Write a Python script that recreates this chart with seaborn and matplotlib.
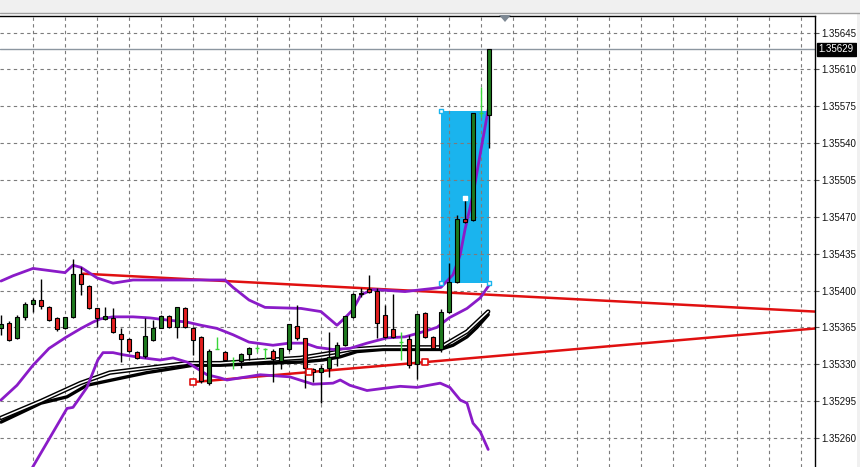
import numpy as np
import pandas as pd
import matplotlib
matplotlib.use("Agg")
import matplotlib.pyplot as plt
import seaborn as sns
from matplotlib.patches import Rectangle, Polygon

# candle data (price), one per bar
opens = [1.35364, 1.35369, 1.35355, 1.35375, 1.35387, 1.35391, 1.35384, 1.35374, 1.35364, 1.35375,
         1.35416, 1.35404, 1.35383, 1.35373, 1.35374, 1.35359, 1.35354, 1.35342, 1.35338, 1.35353,
         1.35364, 1.35376, 1.35365, 1.35383, 1.35364, 1.35356, 1.35312, 1.35344, 1.35342, 1.35333,
         1.35333, 1.35340, 1.35345, 1.35344, 1.35343, 1.35333, 1.35344, 1.35366, 1.35355, 1.35325,
         1.35323, 1.35326, 1.35337, 1.35348, 1.35375, 1.35398, 1.35401, 1.35400, 1.35377, 1.35363,
         1.35351, 1.35354, 1.35330, 1.35379, 1.35356, 1.35344, 1.35380, 1.35408, 1.35468, 1.35467,
         1.35569, 1.35567]
highs = [1.35377, 1.35371, 1.35377, 1.35389, 1.35393, 1.35411, 1.35385, 1.35375, 1.35375, 1.35430,
         1.35422, 1.35405, 1.35383, 1.35384, 1.35383, 1.35364, 1.35355, 1.35343, 1.35374, 1.35372,
         1.35377, 1.35377, 1.35384, 1.35384, 1.35365, 1.35357, 1.35344, 1.35356, 1.35343, 1.35337,
         1.35341, 1.35346, 1.35347, 1.35345, 1.35344, 1.35345, 1.35368, 1.35386, 1.35355, 1.35326,
         1.35329, 1.35361, 1.35351, 1.35376, 1.35398, 1.35402, 1.35415, 1.35402, 1.35386, 1.35397,
         1.35361, 1.35358, 1.35378, 1.35380, 1.35357, 1.35382, 1.35426, 1.35472, 1.35488, 1.35569,
         1.35593, 1.35629]
lows = [1.35358, 1.35352, 1.35354, 1.35372, 1.35380, 1.35382, 1.35371, 1.35362, 1.35363, 1.35374,
        1.35396, 1.35382, 1.35365, 1.35372, 1.35360, 1.35332, 1.35342, 1.35335, 1.35336, 1.35352,
        1.35364, 1.35364, 1.35355, 1.35364, 1.35339, 1.35312, 1.35310, 1.35344, 1.35333, 1.35325,
        1.35326, 1.35334, 1.35342, 1.35335, 1.35313, 1.35325, 1.35343, 1.35353, 1.35307, 1.35313,
        1.35293, 1.35318, 1.35328, 1.35347, 1.35374, 1.35394, 1.35398, 1.35355, 1.35355, 1.35355,
        1.35334, 1.35326, 1.35316, 1.35355, 1.35344, 1.35342, 1.35379, 1.35407, 1.35464, 1.35466,
        1.35565, 1.35535]
closes = [1.35368, 1.35353, 1.35375, 1.35387, 1.35391, 1.35385, 1.35372, 1.35363, 1.35375, 1.35416,
          1.35406, 1.35383, 1.35374, 1.35376, 1.35361, 1.35354, 1.35343, 1.35336, 1.35357, 1.35364,
          1.35376, 1.35365, 1.35384, 1.35365, 1.35353, 1.35314, 1.35343, 1.35344, 1.35334, 1.35333,
          1.35340, 1.35345, 1.35345, 1.35344, 1.35335, 1.35345, 1.35368, 1.35355, 1.35326, 1.35323,
          1.35326, 1.35337, 1.35348, 1.35376, 1.35397, 1.35397, 1.35399, 1.35369, 1.35356, 1.35356,
          1.35351, 1.35329, 1.35378, 1.35356, 1.35345, 1.35380, 1.35408, 1.35468, 1.35465, 1.35569,
          1.35569, 1.35629]

# bollinger bands (read at bar positions)
upper_x = [0, 1.5, 4, 5, 8, 9, 10, 12, 14, 16.5, 21, 25, 28, 29, 31, 33, 37.5, 40, 42, 43, 44, 45,
           46.5, 48.5, 50.5, 54, 55, 56.5, 57.4, 58, 59, 60, 61]
upper_y = [1.35409, 1.35414, 1.35421, 1.35420, 1.35417, 1.35424, 1.35422, 1.35412, 1.35407, 1.35410,
           1.35410, 1.35410, 1.35410, 1.35403, 1.35391, 1.35384, 1.35383, 1.35380, 1.35367, 1.35374,
           1.35382, 1.35396, 1.35401, 1.35400, 1.35399, 1.35402, 1.35403, 1.35415, 1.35434, 1.35458,
           1.35491, 1.35534, 1.35576]
middle_x = [0, 2, 4, 6, 8, 10, 11.5, 12.4, 14, 16.5, 18.6, 20.75, 23.25, 25, 27, 29, 31, 34, 36, 38,
            39.5, 41.5, 43.6, 45.75, 48.25, 50.5, 52.4, 54.5, 56, 58.25, 59.9, 61]
middle_y = [1.35296, 1.35310, 1.35329, 1.35345, 1.35355, 1.35364, 1.35370, 1.35373, 1.35375, 1.35375,
            1.35374, 1.35372, 1.35370, 1.35367, 1.35364, 1.35358, 1.35351, 1.35348, 1.35350, 1.35350,
            1.35346, 1.35344, 1.35345, 1.35350, 1.35355, 1.35356, 1.35360, 1.35365, 1.35374, 1.35383,
            1.35393, 1.35405]
lower_x = [3.4, 8.25, 9, 10.75, 12.1, 12.75, 14, 15.25, 17.75, 19.9, 21.5, 23.25, 24.5, 25.75, 27.4,
           28.25, 32.4, 36.1, 39, 41.5, 42.4, 43.6, 45.75, 47.75, 49.9, 52, 54.9, 56.1, 57.4, 58.25,
           59, 59.9, 60.9]
lower_y = [1.35225, 1.35288, 1.35289, 1.35308, 1.35334, 1.35341, 1.35341, 1.35339, 1.35336, 1.35334,
           1.35336, 1.35332, 1.35326, 1.35320, 1.35317, 1.35315, 1.35320, 1.35318, 1.35311, 1.35312,
           1.35315, 1.35310, 1.35305, 1.35307, 1.35309, 1.35308, 1.35312, 1.35308, 1.35296, 1.35293,
           1.35274, 1.35266, 1.35249]

# moving averages
ma_slow_x = [0, 5, 8.25, 10.75, 14.5, 18.25, 20.75, 24, 27.4, 33.25, 37.4, 40.25, 42.4, 44.5, 47.75,
             52.4, 54.9, 56.5, 58.25, 59.5, 60.9]
ma_slow_y = [1.35275, 1.35293, 1.35299, 1.35310, 1.35316, 1.35322, 1.35325, 1.35329, 1.35329, 1.35331,
             1.35332, 1.35334, 1.35337, 1.35342, 1.35344, 1.35344, 1.35344, 1.35348, 1.35356, 1.35365,
             1.35377]
ma_fast_x = [0, 5, 9.9, 13.6, 23.25, 27.4, 33.25, 37.4, 41.5, 43.6, 47.75, 52.4, 54.9, 58.25, 60.9]
ma_fast_y = [1.35279, 1.35295, 1.35312, 1.35322, 1.35331, 1.35331, 1.35334, 1.35336, 1.35341, 1.35344,
             1.35346, 1.35346, 1.35346, 1.35361, 1.35380]

# trend lines (anchor points) and box
trend_up_x = [10.25, 101.75]
trend_up_y = [1.35416, 1.35380]
trend_low_x = [24, 53]
trend_low_y = [1.35313, 1.35332]
box_x = [55, 61]
box_y = [1.35407, 1.35571]

last_price = 1.35629
tick_prices = [1.35260, 1.35295, 1.35330, 1.35365, 1.35400, 1.35435, 1.35470, 1.35505, 1.35540,
               1.35575, 1.35610, 1.35645]

W, H = 860, 467
sns.set_style("white")
fig = plt.figure(figsize=(W / 100, H / 100), dpi=100)
fig.patch.set_facecolor("white")

# top toolbar band
fig.add_artist(Rectangle((0, 1 - 12.5 / H), 1, 12.5 / H, transform=fig.transFigure,
                         facecolor="#f0f0f0", edgecolor="none"))
fig.add_artist(plt.Line2D([0, 1], [1 - 12.5 / H] * 2, transform=fig.transFigure, color="#a0a0a0", lw=1))
fig.add_artist(Rectangle((857 / W, 0), 3 / W, 1 - 12.5 / H, transform=fig.transFigure,
                         facecolor="#f0f0f0", edgecolor="none"))

ax = fig.add_axes([0, 0, 815 / W, 451 / H])
ax.set_xlim(-0.125, 101.75)
ax.set_ylim(1.3523235, 1.356608)
ax.set_axisbelow("line")

# grid
ax.set_xticks(np.arange(4, 101, 4))
ax.set_yticks(tick_prices)
ax.set_yticklabels([f"{p:.5f}" for p in tick_prices])
ax.grid(True, color="#7c7c7c", linestyle=(0, (3, 3)), lw=0.8)
ax.yaxis.tick_right()
ax.tick_params(axis="x", length=0, labelbottom=False)
ax.tick_params(axis="y", length=3, width=0.8, color="#555555", pad=1.5, labelsize=7,
               labelcolor="#111111")
for lab in ax.get_yticklabels():
    lab.set_family("Liberation Sans")
for s in ["left", "bottom"]:
    ax.spines[s].set_visible(False)
for s in ["top", "right"]:
    ax.spines[s].set_color("black")
    ax.spines[s].set_linewidth(1)

# blue box behind candles
ax.add_patch(Rectangle((box_x[0], box_y[0]), box_x[1] - box_x[0], box_y[1] - box_y[0],
                       facecolor="#1ab4ee", edgecolor="none", zorder=1))

# current price line
ax.axhline(last_price, color="#8c96a0", lw=1, zorder=1.6)

# trend lines
k_up = (trend_up_y[1] - trend_up_y[0]) / (trend_up_x[1] - trend_up_x[0])
ax.plot([trend_up_x[0], 102], [trend_up_y[0], trend_up_y[0] + k_up * (102 - trend_up_x[0])],
        color="#e01010", lw=1.8, zorder=2)
k_low = (trend_low_y[1] - trend_low_y[0]) / (trend_low_x[1] - trend_low_x[0])
ax.plot([trend_low_x[0], 102], [trend_low_y[0], trend_low_y[0] + k_low * (102 - trend_low_x[0])],
        color="#e01010", lw=1.8, zorder=2)
mid_x = (trend_low_x[0] + trend_low_x[1]) / 2
mid_y = (trend_low_y[0] + trend_low_y[1]) / 2
ax.scatter([trend_low_x[0], mid_x, trend_low_x[1]], [trend_low_y[0], mid_y, trend_low_y[1]],
           marker="s", s=14, facecolor="white", edgecolor="#e01010", lw=1.2, zorder=6)

# moving averages
sns.lineplot(x=ma_slow_x, y=ma_slow_y, ax=ax, color="black", lw=2.4, sort=False, estimator=None, zorder=2.2)
sns.lineplot(x=ma_fast_x, y=ma_fast_y, ax=ax, color="black", lw=3.2, sort=False, estimator=None, zorder=2.3)
sns.lineplot(x=ma_fast_x, y=ma_fast_y, ax=ax, color="white", lw=1.1, sort=False, estimator=None, zorder=2.4)

# bollinger bands
for bx, by in [(upper_x, upper_y), (middle_x, middle_y), (lower_x, lower_y)]:
    sns.lineplot(x=bx, y=by, ax=ax, color="#8a1bc8", lw=2, sort=False, estimator=None, zorder=2.5)

# candles
df = pd.DataFrame({"o": opens, "h": highs, "l": lows, "c": closes})
df["i"] = np.arange(len(df))
body_w = 0.62
doji = df[df["o"] == df["c"]]
bars = df[df["o"] != df["c"]]
ax.vlines(bars["i"], bars["l"], bars["h"], color="black", lw=1, zorder=3)
bar_col = np.where(bars["c"] > bars["o"], "#1e7a1e", "#e31e1e")
ax.bar(bars["i"], (bars["c"] - bars["o"]).abs(), bottom=bars[["o", "c"]].min(axis=1), width=body_w,
       color=bar_col, edgecolor="black", lw=0.8, zorder=4)
ax.vlines(doji["i"], doji["l"], doji["h"], color="#3ad63a", lw=1, zorder=3)
ax.hlines(doji["o"], doji["i"] - body_w / 2, doji["i"] + body_w / 2, color="#3ad63a", lw=1, zorder=3)

# box corner markers
ax.scatter([box_x[0], box_x[0], box_x[1]], [box_y[1], box_y[0], box_y[0]], marker="s", s=12,
           facecolor="white", edgecolor="#1ab4ee", lw=1, zorder=6)
ax.scatter([58], [1.35488], marker="s", s=6, facecolor="white", edgecolor="white", zorder=6)

# last price label
ax.annotate(f"{last_price:.5f}", xy=(1.0, last_price), xycoords=("axes fraction", "data"),
            xytext=(2.5, 0), textcoords="offset points", va="center", ha="left",
            fontsize=7, family="Liberation Sans", color="white",
            bbox=dict(boxstyle="square,pad=0.2", facecolor="black", edgecolor="black"), zorder=7)

# shift marker on top
fig.add_artist(Polygon([[499 / W, 1 - 15 / H], [511 / W, 1 - 15 / H], [505 / W, 1 - 22 / H]],
                       closed=True, transform=fig.transFigure, facecolor="#7d8893", edgecolor="none"))

fig.savefig("out.png", dpi=100)
